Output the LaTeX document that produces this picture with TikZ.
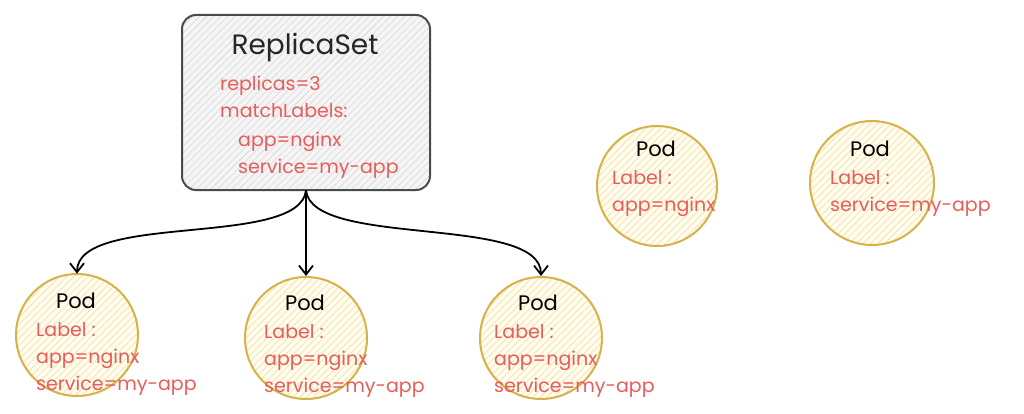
\documentclass[tikz,border=0pt]{standalone}
\usepackage{fontspec}
\setmainfont{Poppins}
\usetikzlibrary{arrows.meta,patterns.meta}
\definecolor{redtxt}{RGB}{232,92,90}
\definecolor{podline}{RGB}{214,178,72}
\definecolor{podhatch}{RGB}{248,224,160}
\definecolor{podfill}{RGB}{255,252,240}
\definecolor{boxline}{RGB}{75,75,75}
\definecolor{boxhatch}{RGB}{215,215,215}
\tikzset{
  rsbox/.style={draw=boxline, line width=2pt, rounded corners=14pt,
    minimum width=248pt, minimum height=175pt,
    preaction={fill=white!96!black},
    pattern={Lines[angle=45,distance=5pt,line width=0.6pt]}, pattern color=boxhatch},
  podcircle/.style={circle, draw=podline, line width=2pt, minimum size=#1,
    preaction={fill=podfill},
    pattern={Lines[angle=45,distance=5pt,line width=0.7pt]}, pattern color=podhatch},
  title/.style={font=\fontsize{28}{32}\selectfont, text=black!85, anchor=base, inner sep=0pt},
  podtitle/.style={font=\fontsize{21}{25}\selectfont, text=black, anchor=base, inner sep=0pt},
  redline/.style={font=\fontsize{19}{23}\selectfont, text=redtxt, anchor=base west, inner sep=0pt},
  conn/.style={draw=black, line width=1.8pt, -{Straight Barb[length=9pt,width=14pt,line width=1.8pt]}},
}
\begin{document}
\begin{tikzpicture}[x=1pt,y=-1pt]
\useasboundingbox (0,0) rectangle (1024,414);
% ReplicaSet
\node[rsbox] (rs) at (306,102.5) {};
\node[title] (rstitle) at (305,55) {ReplicaSet};
\node[redline] (rs1) at (220,91) {replicas=3};
\node[redline] (rs2) at (220,118) {matchLabels:};
\node[redline] (rs3) at (238,147) {app=nginx};
\node[redline] (rs4) at (238,173) {service=my-app};
% bottom pods
\node[podcircle=122pt] (pod1) at (77,335) {};
\node[podcircle=122pt] (pod2) at (306,338) {};
\node[podcircle=122pt] (pod3) at (541,338) {};
\node[podtitle] (p1t) at (76,308) {Pod};
\node[redline] (p1a) at (36,336) {Label :};
\node[redline] (p1b) at (36,363) {app=nginx};
\node[redline] (p1c) at (36,390) {service=my-app};
\node[podtitle] (p2t) at (305,310) {Pod};
\node[redline] (p2a) at (264,338) {Label :};
\node[redline] (p2b) at (264,365) {app=nginx};
\node[redline] (p2c) at (264,392) {service=my-app};
\node[podtitle] (p3t) at (538,310) {Pod};
\node[redline] (p3a) at (494,338) {Label :};
\node[redline] (p3b) at (494,365) {app=nginx};
\node[redline] (p3c) at (494,392) {service=my-app};
% top pods
\node[podcircle=120pt] (pod4) at (657,186) {};
\node[podcircle=124pt] (pod5) at (872,183) {};
\node[podtitle] (p4t) at (656,157) {Pod};
\node[redline] (p4a) at (612,185) {Label :};
\node[redline] (p4b) at (612,211) {app=nginx};
\node[podtitle] (p5t) at (870,157) {Pod};
\node[redline] (p5a) at (830,185) {Label :};
\node[redline] (p5b) at (830,211) {service=my-app};
% connectors
\draw[conn] (rs.south) .. controls ([xshift=-6pt,yshift=-58pt]rs.south) and ([yshift=62pt]pod1.north) .. (pod1.north);
\draw[conn] (rs.south) -- (pod2.north);
\draw[conn] (rs.south) .. controls ([xshift=6pt,yshift=-58pt]rs.south) and ([yshift=62pt]pod3.north) .. (pod3.north);
\end{tikzpicture}
\end{document}
